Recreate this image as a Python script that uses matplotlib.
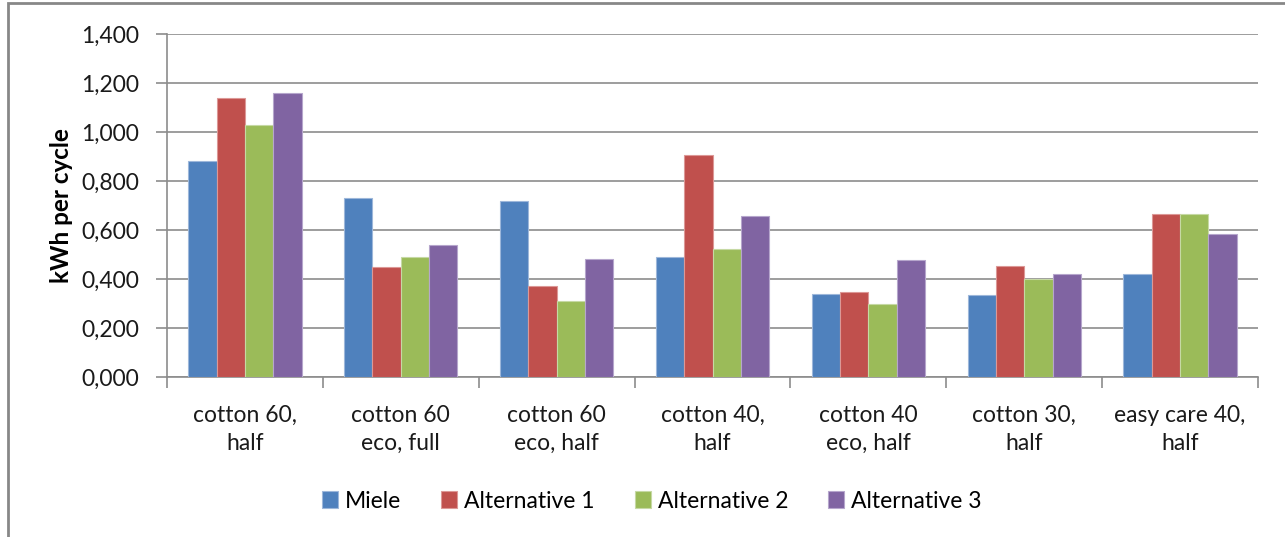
import numpy as np
import matplotlib
matplotlib.use("Agg")
import matplotlib.pyplot as plt
from matplotlib.ticker import FuncFormatter, MultipleLocator
from matplotlib.patches import Rectangle

plt.rcParams["font.family"] = ["Lato", "DejaVu Sans"]

programmes = ["cotton 60,\nhalf", "cotton 60\neco, full", "cotton 60\neco, half",
              "cotton 40,\nhalf", "cotton 40\neco, half", "cotton 30,\nhalf",
              "easy care 40,\nhalf"]
series = ["Miele", "Alternative 1", "Alternative 2", "Alternative 3"]
miele = [0.883, 0.731, 0.720, 0.490, 0.337, 0.333, 0.422]
alt1 = [1.140, 0.448, 0.370, 0.907, 0.348, 0.453, 0.664]
alt2 = [1.029, 0.490, 0.311, 0.521, 0.297, 0.399, 0.664]
alt3 = [1.159, 0.538, 0.480, 0.657, 0.479, 0.422, 0.585]
colors = ["#4F81BD", "#C0504D", "#9BBB59", "#8064A2"]
edges = ["#9DB7DA", "#DC9896", "#C6D9A4", "#B6A6CC"]

fig = plt.figure(figsize=(12.85, 5.37), dpi=100)
ax = fig.add_axes([167 / 1285, 1 - 377 / 537, (1258 - 167) / 1285, 343 / 537])

# chart frame (cut off on the right and bottom)
fig.patches.append(Rectangle((8 / 1285, -0.1), 1.2, 1 - 3 / 537 + 0.1,
                             transform=fig.transFigure, fill=False,
                             edgecolor="#878787", linewidth=2))

x = np.arange(len(programmes))
w = 1 / 5.5
for i, (vals, name) in enumerate(zip([miele, alt1, alt2, alt3], series)):
    ax.bar(x + (i - 1.5) * w, vals, width=w, color=colors[i],
           edgecolor=edges[i], linewidth=0.8, label=name, zorder=3)

ax.set_xlim(-0.5, len(programmes) - 0.5)
ax.set_ylim(0, 1.4)
ax.yaxis.set_major_locator(MultipleLocator(0.2))
ax.yaxis.set_major_formatter(FuncFormatter(lambda v, p: f"{v:.3f}".replace(".", ",")))
ax.grid(axis="y", color="#8C8C8C", linewidth=1.2, zorder=0)

ax.set_xticks(np.arange(len(programmes) + 1) - 0.5)
ax.set_xticklabels([])
ax.set_xticks(x, minor=True)
ax.set_xticklabels(programmes, minor=True, fontsize=16.5, color="#1A1A1A", linespacing=1.4)
ax.tick_params(axis="x", which="major", length=8, color="#8C8C8C", width=1.2)
ax.tick_params(axis="x", which="minor", length=0, pad=20)
ax.tick_params(axis="y", length=8, color="#8C8C8C", width=1.2, labelsize=16.5,
               labelcolor="#1A1A1A", pad=12)

for s in ["top", "right"]:
    ax.spines[s].set_visible(False)
for s in ["left", "bottom"]:
    ax.spines[s].set_color("#8C8C8C")
    ax.spines[s].set_linewidth(1.2)

ax.set_ylabel("kWh per cycle", fontsize=17.5, fontweight="bold", labelpad=6)

fig.legend(loc="center", bbox_to_anchor=(652 / 1285, 1 - 501 / 537), ncol=4,
           frameon=False, fontsize=16.5, handlelength=0.7, handleheight=0.7,
           handletextpad=0.3, columnspacing=1.75)

fig.savefig("out.png", dpi=100)
